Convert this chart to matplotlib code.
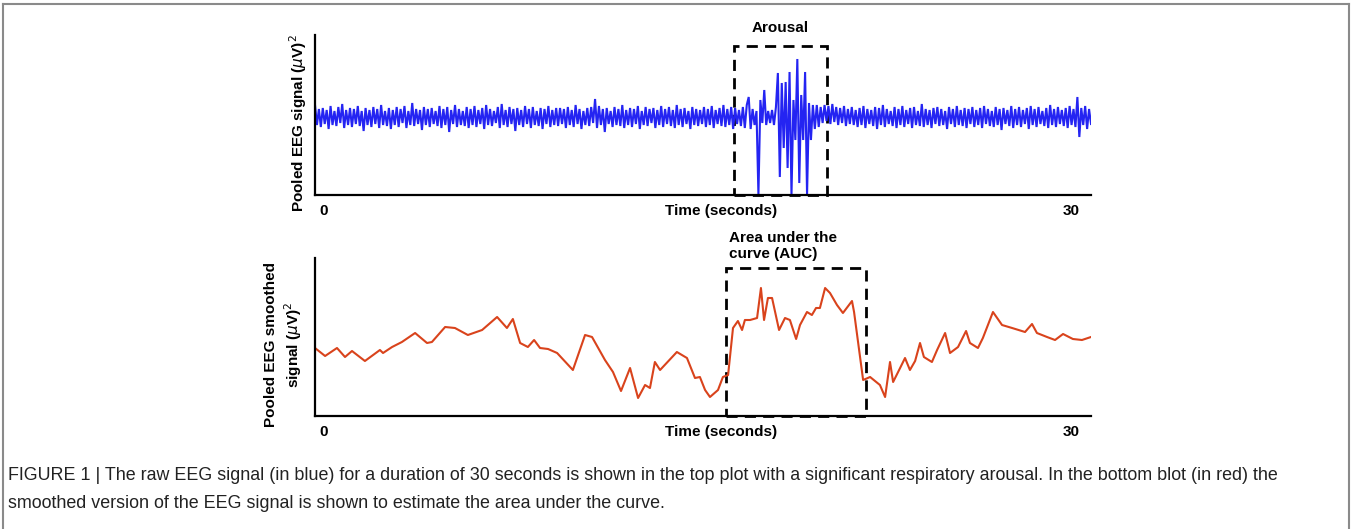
import numpy as np
import matplotlib
matplotlib.use('Agg')
from matplotlib import pyplot as plt
from matplotlib.lines import Line2D
from matplotlib.patches import Rectangle

plt.rcParams['font.family'] = ['Liberation Sans', 'DejaVu Sans']

# raw EEG, 400 samples over 30 s (height above baseline, arbitrary units)
raw_eeg = [
    90, 70, 86, 68, 87, 71, 85, 66, 89, 70, 84, 69, 88, 72, 91, 67, 85, 70, 87, 68,
    86, 71, 89, 69, 84, 64, 87, 70, 85, 68, 88, 71, 86, 67, 90, 70, 84, 69, 87, 66,
    85, 70, 88, 68, 86, 72, 89, 67, 84, 70, 92, 69, 86, 71, 85, 65, 88, 70, 86, 68,
    87, 71, 84, 69, 89, 67, 86, 70, 88, 63, 85, 71, 90, 68, 86, 70, 84, 69, 88, 67,
    86, 70, 89, 68, 85, 71, 87, 66, 90, 70, 86, 69, 84, 72, 88, 67, 91, 70, 85, 68,
    88, 71, 86, 64, 87, 70, 85, 68, 89, 71, 86, 67, 88, 70, 84, 69, 87, 66, 86, 71,
    89, 68, 85, 70, 87, 69, 87, 71, 86, 67, 88, 70, 85, 68, 90, 71, 86, 66, 84, 70,
    87, 69, 88, 72, 96, 67, 89, 70, 86, 63, 87, 71, 84, 68, 88, 70, 86, 69, 90, 67,
    85, 70, 87, 68, 86, 71, 89, 66, 84, 70, 88, 69, 86, 72, 87, 67, 85, 70, 89, 68,
    86, 71, 88, 69, 85, 67, 90, 70, 86, 68, 87, 71, 84, 66, 88, 70, 86, 69, 85, 71,
    88, 68, 86, 70, 89, 67, 85, 71, 87, 69, 90, 68, 86, 70, 88, 66, 87, 71, 85, 69,
    88, 67, 90, 98, 66, 86, 70, 84, 0, 95, 72, 105, 70, 84, 72, 85, 70, 88, 122, 18,
    112, 47, 113, 27, 123, 0, 95, 55, 136, 12, 100, 55, 123, 0, 92, 55, 90, 66, 90, 68,
    88, 72, 90, 74, 89, 71, 91, 73, 88, 70, 87, 72, 89, 69, 86, 71, 88, 70, 85, 68,
    87, 70, 89, 67, 86, 71, 85, 69, 88, 66, 87, 70, 90, 68, 86, 71, 84, 69, 88, 67,
    86, 70, 89, 68, 85, 71, 87, 67, 88, 70, 84, 69, 91, 68, 86, 70, 85, 67, 87, 71,
    88, 69, 86, 70, 84, 66, 88, 71, 86, 68, 89, 70, 85, 69, 87, 67, 86, 71, 88, 68,
    85, 70, 87, 67, 89, 71, 86, 69, 84, 68, 88, 70, 86, 65, 87, 71, 85, 69, 89, 67,
    86, 70, 88, 68, 85, 71, 87, 66, 89, 70, 86, 68, 88, 71, 84, 69, 87, 67, 90, 70,
    86, 68, 88, 71, 85, 69, 87, 67, 89, 70, 86, 68, 98, 58, 87, 70, 89, 66, 86, 71,
]
raw_t = np.linspace(0, 30, len(raw_eeg))

# smoothed EEG
smooth_t = [0, 0.39, 0.85, 1.16, 1.43, 1.93, 2.51, 2.63, 2.98, 3.36,
            3.87, 4.33, 4.52, 5.03, 5.41, 5.91, 6.46, 7.04, 7.42, 7.65,
            7.93, 8.23, 8.47, 8.70, 9.01, 9.36, 9.97, 10.44, 10.71, 11.21,
            11.52, 11.83, 12.18, 12.49, 12.76, 12.95, 13.14, 13.34, 13.99, 14.38,
            14.69, 14.88, 15.08, 15.27, 15.58, 15.77, 15.97, 16.16, 16.35, 16.51,
            16.62, 16.82, 17.09, 17.24, 17.36, 17.51, 17.67, 17.94, 18.17, 18.36,
            18.60, 18.75, 19.02, 19.21, 19.37, 19.52, 19.72, 19.91, 20.18, 20.41,
            20.76, 20.84, 21.19, 21.46, 21.65, 21.84, 22.04, 22.23, 22.35, 22.62,
            22.81, 23.00, 23.20, 23.39, 23.54, 23.85, 24.05, 24.36, 24.55, 24.86,
            25.17, 25.32, 25.63, 25.82, 26.21, 26.56, 26.95, 27.45, 27.72, 27.91,
            28.30, 28.61, 28.92, 29.30, 29.65, 30.0]
smooth_eeg = [68, 60, 68, 59, 65, 55, 66, 63, 69, 74,
              83, 73, 74, 89, 88, 81, 86, 99, 88, 97,
              73, 69, 76, 68, 67, 63, 46, 81, 79, 56,
              44, 25, 48, 18, 31, 28, 54, 46, 64, 58,
              38, 39, 26, 19, 26, 39, 41, 88, 95, 86,
              96, 96, 98, 128, 96, 118, 118, 86, 98, 96,
              77, 91, 104, 101, 108, 108, 128, 123, 111, 103,
              115, 104, 36, 39, 35, 31, 19, 54, 34, 48,
              58, 46, 55, 73, 59, 54, 66, 83, 63, 69,
              85, 73, 68, 78, 104, 91, 88, 84, 92, 83,
              79, 76, 82, 77, 76, 79]

arousal_win = (16.20, 19.79)
auc_win = (15.89, 21.30)

W, H = 1352, 529
fig = plt.figure(figsize=(W / 100, H / 100), dpi=100)

ax1 = fig.add_axes([315 / W, 1 - 195 / H, 776 / W, 160 / H])
ax2 = fig.add_axes([315 / W, 1 - 416 / H, 776 / W, 158 / H])

ax1.plot(raw_t, raw_eeg, color='#2424f2', lw=1.5, solid_joinstyle='miter')
ax1.set_ylim(0, 160)
ax2.plot(smooth_t, smooth_eeg, color='#d9431c', lw=1.5)
ax2.set_ylim(0, 158)

boxstyle = dict(fill=False, ec='black', lw=2, ls=(0, (4, 2.6)), clip_on=False)
ax1.add_patch(Rectangle((arousal_win[0], 0), arousal_win[1] - arousal_win[0], 149, **boxstyle))
ax2.add_patch(Rectangle((auc_win[0], 0), auc_win[1] - auc_win[0], 148, **boxstyle))

ax1.text(sum(arousal_win) / 2, 167, 'Arousal', ha='center', va='center',
         fontsize=11, fontweight='bold')
ax2.text(auc_win[0] + 0.1, 170, 'Area under the\ncurve (AUC)', ha='left', va='center',
         fontsize=11, fontweight='bold', linespacing=1.2)

for ax in (ax1, ax2):
    ax.set_xlim(0, 30)
    ax.spines['top'].set_visible(False)
    ax.spines['right'].set_visible(False)
    ax.spines['left'].set_linewidth(1.6)
    ax.spines['bottom'].set_linewidth(1.6)
    ax.set_xticks([])
    ax.set_yticks([])
    ax.text(0.005, -0.1, '0', transform=ax.transAxes, ha='left', va='center',
            fontsize=11, fontweight='bold')
    ax.text(0.985, -0.1, '30', transform=ax.transAxes, ha='right', va='center',
            fontsize=11, fontweight='bold')
    ax.text(0.523, -0.1, 'Time (seconds)', transform=ax.transAxes, ha='center',
            va='center', fontsize=11, fontweight='bold')

ax1.text(-0.022, 0.45, r'Pooled EEG signal ($\mu$V)$^2$', transform=ax1.transAxes,
         rotation=90, ha='center', va='center', fontsize=11, fontweight='bold')
ax2.text(-0.04, 0.45, 'Pooled EEG smoothed\n' + r'signal ($\mu$V)$^2$', transform=ax2.transAxes,
         rotation=90, ha='center', va='center', fontsize=11, fontweight='bold',
         linespacing=1.3)

caption = ('FIGURE 1 | The raw EEG signal (in blue) for a duration of 30 seconds is shown in the top plot '
           'with a significant respiratory arousal. In the bottom blot (in red) the\n'
           'smoothed version of the EEG signal is shown to estimate the area under the curve.')
fig.text(8 / W, 1 - 489.5 / H, caption, ha='left', va='center', fontsize=12.9,
         color='#222222', linespacing=1.85)

# frame around figure
gray = '#8a8a8a'
fig.add_artist(Line2D([3 / W, 3 / W], [0, 1 - 3.5 / H], transform=fig.transFigure, color=gray, lw=1.5))
fig.add_artist(Line2D([1 - 3 / W, 1 - 3 / W], [0, 1 - 3.5 / H], transform=fig.transFigure, color=gray, lw=1.5))
fig.add_artist(Line2D([3 / W, 1 - 3 / W], [1 - 3.5 / H, 1 - 3.5 / H], transform=fig.transFigure, color=gray, lw=1.5))

plt.savefig('out.png', dpi=100)
